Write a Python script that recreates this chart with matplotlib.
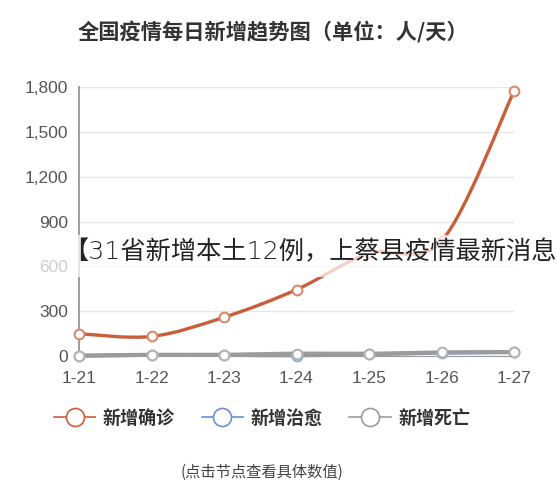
import numpy as np
import matplotlib
matplotlib.use('Agg')
import matplotlib.pyplot as plt
from matplotlib.path import Path
from matplotlib.patches import PathPatch, Rectangle
from matplotlib.lines import Line2D
from matplotlib.ticker import FuncFormatter

plt.rcParams['font.family'] = ['Noto Sans CJK SC', 'DejaVu Sans']

# daily new cases (persons / day)
dates = ['1-21', '1-22', '1-23', '1-24', '1-25', '1-26', '1-27']
confirmed = [149, 131, 259, 444, 688, 769, 1771]
cured = [0, 6, 6, 3, 11, 21, 25]
deaths = [3, 8, 8, 16, 15, 24, 26]
series_names = ['新增确诊', '新增治愈', '新增死亡']
yticks = [0, 300, 600, 900, 1200, 1500, 1800]

line_colors = ['#c95f3a', '#6a8fd3', '#9b9b9b']
marker_edges = ['#d98a6c', '#8eabe0', '#b4b4b4']


def smooth_path(xs, ys):
    # catmull-rom style bezier through the data points (echarts "smooth" look)
    pts = np.column_stack([xs, ys]).astype(float)
    n = len(pts)
    verts = [pts[0]]
    codes = [Path.MOVETO]
    for i in range(n - 1):
        p0 = pts[max(i - 1, 0)]
        p1 = pts[i]
        p2 = pts[i + 1]
        p3 = pts[min(i + 2, n - 1)]
        c1 = p1 + (p2 - p0) / 6.0
        c2 = p2 - (p3 - p1) / 6.0
        verts += [c1, c2, p2]
        codes += [Path.CURVE4] * 3
    return Path(verts, codes)


fig = plt.figure(figsize=(5.57, 5.00), dpi=100)
fig.patch.set_facecolor('white')
ax = fig.add_axes([79 / 557, 1 - 356 / 500, (514 - 79) / 557, (356 - 87) / 500])

x = np.arange(len(dates))
data = [confirmed, cured, deaths]
widths = [2.4, 2.6, 3.0]
zorders = [4, 2, 3]
for vals, lc, me, lw, zo in zip(data, line_colors, marker_edges, widths, zorders):
    ax.add_patch(PathPatch(smooth_path(x, vals), facecolor='none', edgecolor=lc,
                           lw=lw, capstyle='round', zorder=zo, clip_on=False))
    ax.plot(x, vals, linestyle='none', marker='o', markersize=7, markerfacecolor='white',
            markeredgecolor=me, markeredgewidth=1.5, zorder=zo + 0.5, clip_on=False)

ax.set_xlim(0, len(dates) - 1)
ax.set_ylim(0, 1800)
ax.set_xticks(x)
ax.set_xticklabels(dates)
ax.set_yticks(yticks)
ax.yaxis.set_major_formatter(FuncFormatter(lambda v, p: '{:,.0f}'.format(v)))
ax.grid(axis='y', color='#e6e6e6', linewidth=1)
ax.set_axisbelow(True)
for s in ['top', 'right']:
    ax.spines[s].set_visible(False)
ax.spines['left'].set_color('#8c8c8c')
ax.spines['left'].set_linewidth(1.2)
ax.spines['bottom'].set_color('#9b9b9b')
ax.tick_params(axis='both', length=0, labelsize=12.5, labelcolor='#555555')
ax.tick_params(axis='y', pad=8)
ax.tick_params(axis='x', pad=11)
for lab in ax.get_xticklabels() + ax.get_yticklabels():
    lab.set_fontfamily('Liberation Sans')

# title
fig.text(273 / 557, 1 - 32 / 500, '全国疫情每日新增趋势图（单位：人/天）', ha='center', va='center',
         fontsize=15.3, fontweight='bold', color='#333333')

# legend
handles = [Line2D([], [], color=lc, lw=1.2, marker='o', markersize=13, markerfacecolor='white',
                  markeredgecolor=lc, markeredgewidth=1.2) for lc in line_colors]
leg = fig.legend(handles, series_names, loc='center', bbox_to_anchor=(262 / 557, 1 - 418 / 500),
                 ncol=3, frameon=False, handlelength=2.3, handletextpad=0.4, columnspacing=1.5,
                 prop={'size': 13, 'weight': 'bold'})
for t in leg.get_texts():
    t.set_color('#333333')

# footer hint
fig.text(262 / 557, 1 - 472 / 500, '(点击节点查看具体数值)', ha='center', va='center',
         fontsize=11, color='#444444')

# overlaid headline with translucent band
fig.patches.append(Rectangle((30 / 557, 1 - 277 / 500), 527 / 557, 42 / 500, transform=fig.transFigure,
                             facecolor='white', edgecolor='none', alpha=0.72, zorder=5))
fig.text(557 / 557, 1 - 252 / 500, '【31省新增本土12例，上蔡县疫情最新消息', ha='right', va='center',
         fontsize=18.2, fontweight='light', color='#222222', zorder=10,
         family=['DejaVu Sans', 'Noto Sans CJK SC'])

fig.savefig('out.png', dpi=100, facecolor='white')
